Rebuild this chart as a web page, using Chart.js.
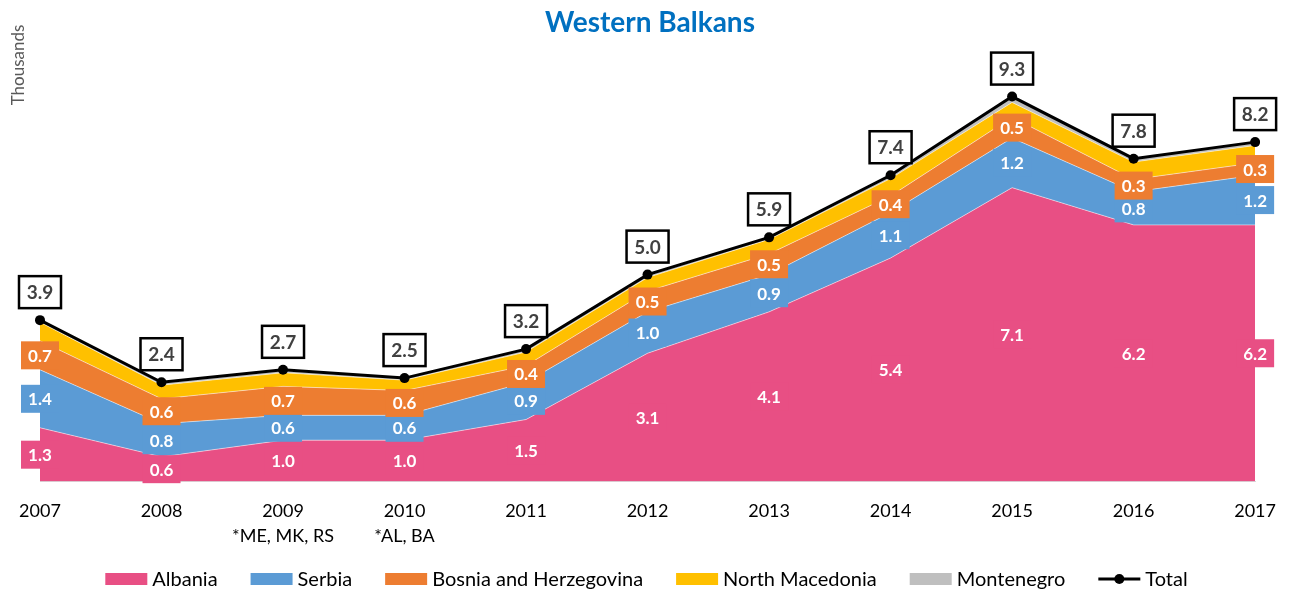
<!DOCTYPE html>
<html lang="en">
<head>
    <meta charset="UTF-8">
    <title>Western Balkans</title>
    <style>
        html, body {
            margin: 0;
            padding: 0;
            background-color: #fff;
        }
        .chart-container {
            width: 1293px;
            height: 591px;
        }
    </style>
</head>
<body>
    <div class="chart-container">
        <canvas id="myChart" width="1293" height="591"></canvas>
    </div>

    <script src="https://cdn.jsdelivr.net/npm/chart.js"></script>
    <script>
        // data (thousands)
        var years = ['2007', '2008', '2009', '2010', '2011', '2012', '2013', '2014', '2015', '2016', '2017'];
        var yearNotes = ['', '', '*ME, MK, RS', '*AL, BA', '', '', '', '', '', '', ''];
        var albania = [1.3, 0.6, 1.0, 1.0, 1.5, 3.1, 4.1, 5.4, 7.1, 6.2, 6.2];
        var serbia = [1.4, 0.8, 0.6, 0.6, 0.9, 1.0, 0.9, 1.1, 1.2, 0.8, 1.2];
        var bosnia = [0.7, 0.6, 0.7, 0.6, 0.4, 0.5, 0.5, 0.4, 0.5, 0.3, 0.3];
        var northMacedonia = [0.45, 0.33, 0.33, 0.25, 0.33, 0.33, 0.35, 0.42, 0.36, 0.42, 0.42];
        var montenegro = [0.05, 0.05, 0.05, 0.05, 0.05, 0.05, 0.05, 0.08, 0.12, 0.08, 0.06];
        var total = [3.9, 2.4, 2.7, 2.5, 3.2, 5.0, 5.9, 7.4, 9.3, 7.8, 8.2];

        var FONT = 'Lato';

        var labels = years.map(function(y, i) {
            return yearNotes[i] ? [y, yearNotes[i]] : y;
        });

        function area(label, data, color, fill) {
            return {
                label: label,
                data: data,
                backgroundColor: color,
                borderColor: 'rgba(255,255,255,0.5)',
                borderWidth: 1,
                pointRadius: 0,
                fill: fill,
                tension: 0,
                stack: 'countries'
            };
        }

        // boxed value labels
        var valueLabels = {
            id: 'valueLabels',
            afterDatasetsDraw: function(chart) {
                var ctx = chart.ctx;
                var yScale = chart.scales.y;
                var sets = chart.data.datasets;
                ctx.save();
                ctx.textAlign = 'center';
                ctx.textBaseline = 'middle';

                // first three series: white text on coloured box, middle of band
                ctx.font = 'bold 17px ' + FONT;
                [0, 1, 2].forEach(function(di) {
                    var meta = chart.getDatasetMeta(di);
                    meta.data.forEach(function(pt, i) {
                        var base = 0;
                        for (var k = 0; k < di; k++) base += sets[k].data[i];
                        var v = sets[di].data[i];
                        var cy = yScale.getPixelForValue(base + v / 2);
                        ctx.fillStyle = sets[di].backgroundColor;
                        ctx.fillRect(pt.x - 19, cy - 14, 38, 28);
                        ctx.fillStyle = '#fff';
                        ctx.fillText(v.toFixed(1), pt.x, cy + 1);
                    });
                });

                // total: dark text in white box with black border, above the point
                ctx.font = 'bold 19px ' + FONT;
                var tMeta = chart.getDatasetMeta(5);
                tMeta.data.forEach(function(pt, i) {
                    var cy = pt.y - 28;
                    ctx.fillStyle = '#fff';
                    ctx.fillRect(pt.x - 21, cy - 16, 42, 32);
                    ctx.lineWidth = 2.5;
                    ctx.strokeStyle = '#000';
                    ctx.strokeRect(pt.x - 21, cy - 16, 42, 32);
                    ctx.fillStyle = '#404040';
                    ctx.fillText(sets[5].data[i].toFixed(1), pt.x, cy + 1);
                });
                ctx.restore();
            }
        };

        // "Thousands" and the legend along the bottom
        var extras = {
            id: 'extras',
            afterDraw: function(chart) {
                var ctx = chart.ctx;
                ctx.save();
                ctx.fillStyle = '#595959';
                ctx.font = '17px ' + FONT;
                ctx.translate(19, 65);
                ctx.rotate(-Math.PI / 2);
                ctx.textAlign = 'center';
                ctx.textBaseline = 'middle';
                ctx.fillText('Thousands', 0, 0);
                ctx.restore();

                ctx.save();
                ctx.font = '20px ' + FONT;
                ctx.textBaseline = 'middle';
                var sets = chart.data.datasets;
                var boxW = 42, gap = 5, space = 33;
                var widths = sets.map(function(ds) {
                    return boxW + gap + ctx.measureText(ds.label).width;
                });
                var full = widths.reduce(function(a, b) { return a + b; }, 0) + space * (sets.length - 1);
                var x = (chart.width - full) / 2;
                var y = 579;
                sets.forEach(function(ds, i) {
                    if (ds.stack === 'total') {
                        ctx.strokeStyle = '#000';
                        ctx.lineWidth = 3;
                        ctx.beginPath();
                        ctx.moveTo(x, y);
                        ctx.lineTo(x + boxW, y);
                        ctx.stroke();
                        ctx.fillStyle = '#000';
                        ctx.beginPath();
                        ctx.arc(x + boxW / 2, y, 5, 0, Math.PI * 2);
                        ctx.fill();
                    } else {
                        ctx.fillStyle = ds.backgroundColor;
                        ctx.fillRect(x, y - 6, boxW, 12);
                    }
                    ctx.fillStyle = '#000';
                    ctx.fillText(ds.label, x + boxW + gap, y + 1);
                    x += widths[i] + space;
                });
                ctx.restore();
            }
        };

        var ctx = document.getElementById('myChart').getContext('2d');
        new Chart(ctx, {
            type: 'line',
            data: {
                labels: labels,
                datasets: [
                    area('Albania', albania, '#E84F84', 'origin'),
                    area('Serbia', serbia, '#5B9BD5', '-1'),
                    area('Bosnia and Herzegovina', bosnia, '#ED7D31', '-1'),
                    area('North Macedonia', northMacedonia, '#FFC000', '-1'),
                    area('Montenegro', montenegro, '#BFBFBF', '-1'),
                    {
                        label: 'Total',
                        data: total,
                        borderColor: '#000',
                        backgroundColor: '#000',
                        borderWidth: 3,
                        pointRadius: 5,
                        pointBackgroundColor: '#000',
                        pointBorderWidth: 0,
                        fill: false,
                        tension: 0,
                        stack: 'total',
                        order: -1
                    }
                ]
            },
            options: {
                responsive: false,
                animation: false,
                devicePixelRatio: 1,
                layout: {
                    padding: { left: 40, right: 33, top: 0, bottom: 25 }
                },
                plugins: {
                    title: {
                        display: true,
                        text: 'Western Balkans',
                        color: '#0070C0',
                        font: { family: FONT, size: 28, weight: 'bold' },
                        padding: { top: 6, bottom: 28 }
                    },
                    legend: { display: false },
                    tooltip: { enabled: false }
                },
                scales: {
                    x: {
                        offset: false,
                        grid: { display: false, drawTicks: false },
                        border: { display: true, color: '#D9D9D9' },
                        ticks: {
                            color: '#000',
                            padding: 17,
                            autoSkip: false,
                            maxRotation: 0,
                            font: { family: FONT, size: 18, lineHeight: 1.4 }
                        }
                    },
                    y: {
                        display: false,
                        stacked: true,
                        min: 0,
                        max: 10
                    }
                }
            },
            plugins: [valueLabels, extras]
        });
    </script>
</body>
</html>
